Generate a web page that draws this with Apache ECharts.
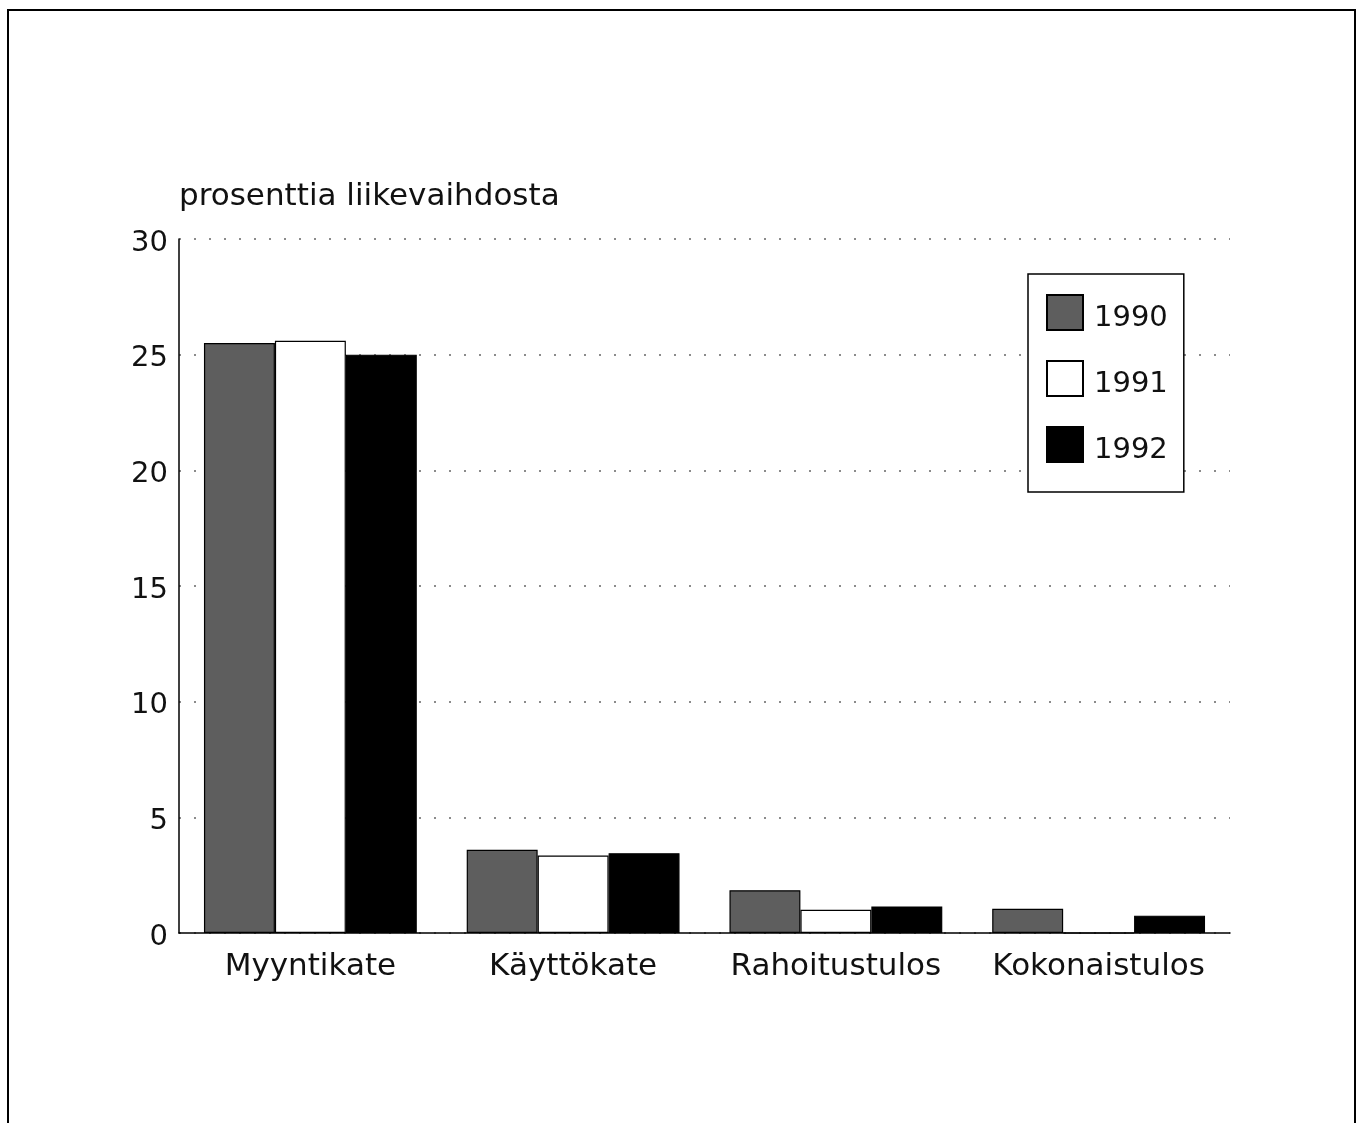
<!DOCTYPE html>
<html>
<head>
<meta charset="utf-8">
<script src="https://cdn.jsdelivr.net/npm/echarts@6/dist/echarts.min.js"></script>
<style>
html,body{margin:0;padding:0;background:#fff;}
#c{width:1363px;height:1123px;}
</style>
</head>
<body>
<div id="c"></div>
<script>
const categories = ['Myyntikate', 'Käyttökate', 'Rahoitustulos', 'Kokonaistulos'];
const years = ['1990', '1991', '1992'];
const values1990 = [25.5, 3.6, 1.85, 1.05];
const values1991 = [25.6, 3.35, 1.0, 0];
const values1992 = [25.0, 3.45, 1.15, 0.75];
const yTicks = [0, 5, 10, 15, 20, 25, 30];
const yTitle = 'prosenttia liikevaihdosta';

const FONT = 'DejaVu Sans';
const fills = ['#5e5e5e', '#ffffff', '#000000'];
const seriesValues = [values1990, values1991, values1992];

const chart = echarts.init(document.getElementById('c'), null, {renderer: 'canvas'});
chart.setOption({
  backgroundColor: '#ffffff',
  animation: false,
  title: {
    text: yTitle,
    left: 179, top: 181,
    padding: 0,
    textStyle: {fontFamily: FONT, fontSize: 31, fontWeight: 'normal', color: '#111'}
  },
  graphic: [{
    type: 'rect',
    shape: {x: 8, y: 10, width: 1347, height: 1200},
    style: {fill: 'none', stroke: '#000', lineWidth: 2},
    silent: true, z: -1
  }],
  legend: {
    left: 1028, top: 274,
    orient: 'vertical',
    icon: 'rect',
    itemWidth: 36, itemHeight: 35, itemGap: 27,
    padding: [20, 16, 27, 18],
    borderColor: '#000', borderWidth: 1.5,
    backgroundColor: '#fff',
    data: years,
    textStyle: {fontFamily: FONT, fontSize: 29, color: '#111',
      rich: {t: {fontFamily: FONT, fontSize: 29, color: '#111', padding: [12, 0, 0, 6]}}},
    formatter: n => '{t|' + n + '}'
  },
  grid: {left: 179, right: 133, top: 239, bottom: 190, containLabel: false, outerBoundsMode: 'none'},
  xAxis: {
    type: 'category',
    data: categories,
    axisLine: {show: true, lineStyle: {color: '#000', width: 1.5}},
    axisTick: {show: false},
    axisLabel: {fontFamily: FONT, fontSize: 31, color: '#111', margin: 18, interval: 0},
    splitLine: {show: false}
  },
  yAxis: {
    type: 'value',
    min: 0, max: 30, interval: 5,
    axisLine: {show: true, lineStyle: {color: '#000', width: 1.5}},
    axisTick: {show: false},
    axisLabel: {fontFamily: FONT, fontSize: 29, color: '#111', margin: 11,
      rich: {n: {fontFamily: FONT, fontSize: 29, color: '#111', padding: [8, 0, 0, 0]}},
      formatter: v => yTicks.includes(v) ? '{n|' + v + '}' : ''},
    splitLine: {show: true, lineStyle: {color: '#666', width: 1.5, type: [2, 13]}}
  },
  series: years.map((y, i) => ({
    name: y,
    type: 'bar',
    data: seriesValues[i],
    barGap: '0%',
    barCategoryGap: '19%',
    itemStyle: {color: fills[i], borderColor: '#000', borderWidth: 1.2}
  }))
});
</script>
</body>
</html>
